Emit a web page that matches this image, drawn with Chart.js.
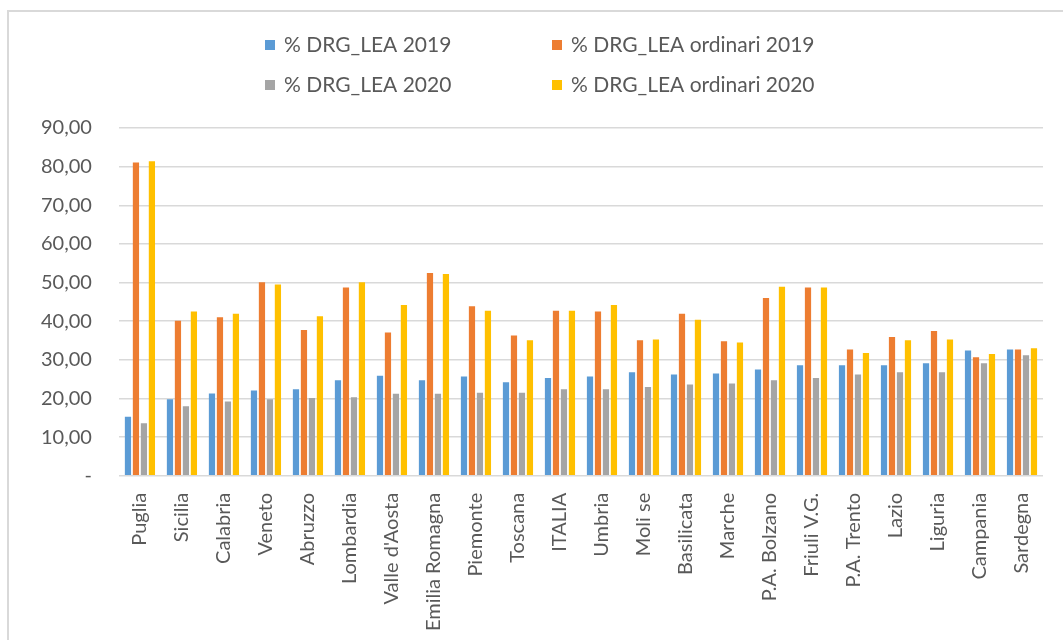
<!DOCTYPE html>
<html>
<head>
<meta charset="utf-8">
<script src="https://cdn.jsdelivr.net/npm/chart.js@4/dist/chart.umd.min.js"></script>
<style>
  html, body { margin: 0; padding: 0; background: #fff; }
  #wrap { position: relative; width: 1063px; height: 640px; }
  #frame { position: absolute; left: 7px; top: 10px; width: 1100px; height: 700px;
           border-left: 2px solid #d9d9d9; border-top: 2px solid #d9d9d9; }
  canvas { position: absolute; left: 0; top: 0; }
</style>
</head>
<body>
<div id="wrap">
  <div id="frame"></div>
  <canvas id="myChart" width="1063" height="640"></canvas>
</div>
<script>
const regions = ['Puglia', 'Sicilia', 'Calabria', 'Veneto', 'Abruzzo', 'Lombardia', "Valle d'Aosta",
  'Emilia Romagna', 'Piemonte', 'Toscana', 'ITALIA', 'Umbria', 'Moli se', 'Basilicata', 'Marche',
  'P.A. Bolzano', 'Friuli V.G.', 'P.A. Trento', 'Lazio', 'Liguria', 'Campania', 'Sardegna'];

const lea2019 = [15.3, 19.8, 21.3, 22.1, 22.4, 24.7, 25.9, 24.7, 25.7, 24.2, 25.3, 25.7, 26.8, 26.2, 26.5,
  27.5, 28.6, 28.6, 28.6, 29.1, 32.4, 32.7];
const leaOrd2019 = [81.1, 40.1, 41.0, 50.1, 37.7, 48.7, 37.1, 52.5, 43.9, 36.3, 42.7, 42.5, 35.1, 41.9, 34.8,
  46.0, 48.7, 32.7, 35.9, 37.5, 30.7, 32.7];
const lea2020 = [13.6, 18.0, 19.2, 19.8, 20.1, 20.3, 21.2, 21.2, 21.5, 21.5, 22.4, 22.4, 23.0, 23.6, 23.9,
  24.7, 25.3, 26.2, 26.8, 26.8, 29.1, 31.2];
const leaOrd2020 = [81.4, 42.5, 41.9, 49.5, 41.3, 50.1, 44.2, 52.2, 42.7, 35.1, 42.7, 44.2, 35.3, 40.4, 34.5,
  48.9, 48.7, 31.8, 35.1, 35.3, 31.5, 33.0];

const seriesNames = ['% DRG_LEA 2019', '% DRG_LEA ordinari 2019', '% DRG_LEA 2020', '% DRG_LEA ordinari 2020'];
const seriesColors = ['#5b9bd5', '#ed7d31', '#a5a5a5', '#ffc000'];

const textColor = '#595959';
const fontFamily = 'Lato, "Open Sans", sans-serif';

// legend in two rows of two, like the Excel original
const gridLegend = {
  id: 'gridLegend',
  afterDraw(chart) {
    const ctx = chart.ctx;
    const cols = [265, 552];
    const rows = [45, 85];
    ctx.save();
    ctx.font = '21px ' + fontFamily;
    ctx.textBaseline = 'middle';
    chart.data.datasets.forEach((ds, i) => {
      const x = cols[i % 2];
      const y = rows[Math.floor(i / 2)];
      ctx.fillStyle = ds.backgroundColor;
      ctx.fillRect(x, y - 5, 10, 10);
      ctx.fillStyle = textColor;
      ctx.fillText(ds.label, x + 19, y);
    });
    ctx.restore();
  }
};

const allSeries = [lea2019, leaOrd2019, lea2020, leaOrd2020];

const chartEl = document.getElementById('myChart');
const ctx = chartEl.getContext('2d');
new Chart(ctx, {
  type: 'bar',
  data: {
    labels: regions,
    datasets: allSeries.map((vals, i) => ({
      label: seriesNames[i],
      data: vals,
      backgroundColor: seriesColors[i],
      borderWidth: 0,
      barPercentage: 0.78,
      categoryPercentage: 0.76
    }))
  },
  options: {
    responsive: false,
    animation: false,
    layout: { padding: { top: 128, left: 14, right: 20, bottom: 0 } },
    plugins: { legend: { display: false }, tooltip: { enabled: false } },
    scales: {
      x: {
        grid: { display: false },
        border: { display: false },
        ticks: {
          color: textColor,
          font: { family: fontFamily, size: 20 },
          autoSkip: false,
          minRotation: 90,
          maxRotation: 90,
          padding: 9
        }
      },
      y: {
        min: 0,
        max: 90,
        border: { display: false },
        grid: { color: '#d9d9d9', lineWidth: 1.5, drawTicks: false },
        ticks: {
          stepSize: 10,
          color: textColor,
          font: { family: fontFamily, size: 20 },
          padding: 27,
          callback: v => v === 0 ? '-' : v.toFixed(2).replace('.', ',')
        }
      }
    }
  },
  plugins: [gridLegend]
});
</script>
</body>
</html>
